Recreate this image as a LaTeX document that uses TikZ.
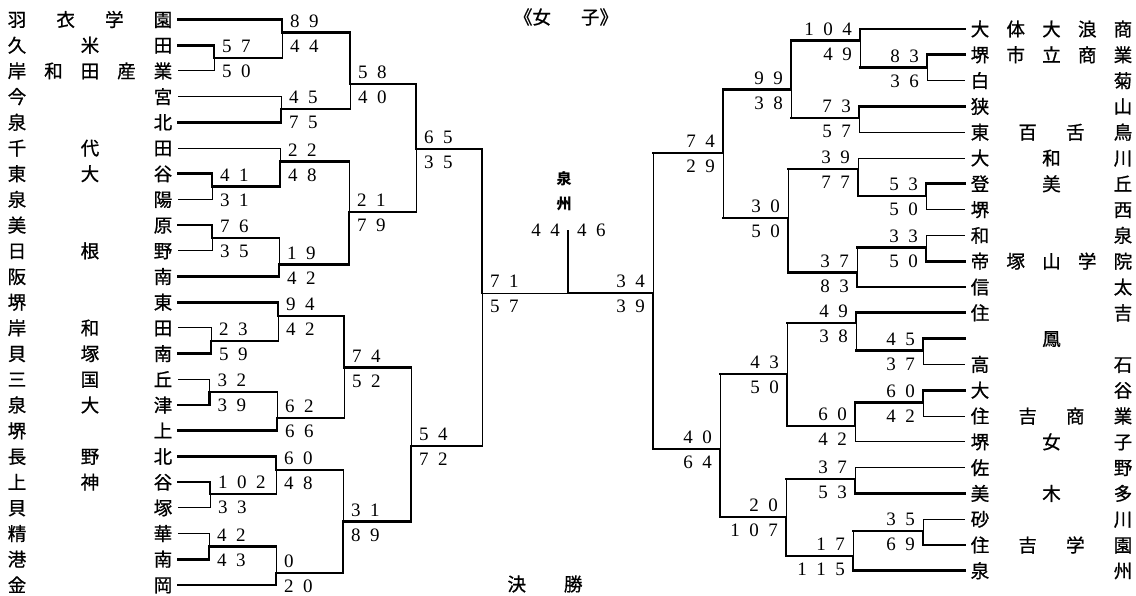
\documentclass[tikz,border=0pt]{standalone}
\usepackage{fontspec}
\setmainfont{Liberation Serif}
\newfontfamily\jp{Noto Sans CJK JP}[FakeBold=0.8]
\newfontfamily\jpc{Noto Sans CJK JP}
\def\sepjoin#1#2{\sjA{#1}#2\sjstop}
\def\sjA#1#2#3\sjstop{#2\ifx\relax#3\relax\else#1\sjA{#1}#3\sjstop\fi}
\newcommand{\nums}[1]{\sepjoin{\hspace{9.5pt}}{#1}}
\newcommand{\tnl}[1]{\makebox[164.5pt]{\sepjoin{\hfill}{#1}}}
\newcommand{\tnr}[1]{\makebox[161.5pt]{\sepjoin{\hfill}{#1}}}
% match: name, x, y, child1, child2, style1, style2, score1, score2
\newcommand{\bmA}[9]{%
  \coordinate (#1) at (#2,#3);
  \draw[#6] (#4) -- (#4 -| #1);
  \draw[#7] (#5) -- (#5 -| #1);
  \draw[thk] (#4 -| #1) -- (#1);
  \draw[thn] (#1) -- (#5 -| #1);
  \node[su] (#1u) at (#1) {\nums{#8}};
  \node[sd] (#1d) at (#1) {\nums{#9}};
}
\newcommand{\bmB}[9]{%
  \coordinate (#1) at (#2,#3);
  \draw[#6] (#4) -- (#4 -| #1);
  \draw[#7] (#5) -- (#5 -| #1);
  \draw[thn] (#4 -| #1) -- (#1);
  \draw[thk] (#1) -- (#5 -| #1);
  \node[su] (#1u) at (#1) {\nums{#8}};
  \node[sd] (#1d) at (#1) {\nums{#9}};
}
\begin{document}
\begin{tikzpicture}[x=1pt,y=-1pt,
  thk/.style={line width=2.7pt, line cap=rect},
  thn/.style={line width=0.9pt, line cap=rect},
  jpn/.style={font=\jp\fontsize{18.5}{18.5}\selectfont, inner sep=0pt},
  lname/.style={jpn, outer xsep=6pt, text height=16.3pt, text depth=2.2pt},
  sc/.style={font=\fontsize{19}{19}\selectfont, inner sep=0pt},
  champ/.style={font=\jpc\bfseries\fontsize{15}{15}\selectfont, inner sep=0pt}]
\useasboundingbox (0,0) rectangle (1136,595);

\node[jpn] (title) at (566,17) {《女\hspace{30pt}子》};
\node[jpn] (kessho) at (545,584) {決\hspace{38pt}勝};

% ---------- left teams
\node[lname] (nL1) at (90,19.5) {\tnl{羽衣学園}};
\node[lname] (nL2) at (90,45.2) {\tnl{久米田}};
\node[lname] (nL3) at (90,70.9) {\tnl{岸和田産業}};
\node[lname] (nL4) at (90,96.6) {\tnl{今宮}};
\node[lname] (nL5) at (90,122.3) {\tnl{泉北}};
\node[lname] (nL6) at (90,148.0) {\tnl{千代田}};
\node[lname] (nL7) at (90,173.7) {\tnl{東大谷}};
\node[lname] (nL8) at (90,199.4) {\tnl{泉陽}};
\node[lname] (nL9) at (90,225.1) {\tnl{美原}};
\node[lname] (nL10) at (90,250.8) {\tnl{日根野}};
\node[lname] (nL11) at (90,276.5) {\tnl{阪南}};
\node[lname] (nL12) at (90,302.2) {\tnl{堺東}};
\node[lname] (nL13) at (90,327.9) {\tnl{岸和田}};
\node[lname] (nL14) at (90,353.6) {\tnl{貝塚南}};
\node[lname] (nL15) at (90,379.3) {\tnl{三国丘}};
\node[lname] (nL16) at (90,405.0) {\tnl{泉大津}};
\node[lname] (nL17) at (90,430.7) {\tnl{堺上}};
\node[lname] (nL18) at (90,456.4) {\tnl{長野北}};
\node[lname] (nL19) at (90,482.1) {\tnl{上神谷}};
\node[lname] (nL20) at (90,507.8) {\tnl{貝塚}};
\node[lname] (nL21) at (90,533.5) {\tnl{精華}};
\node[lname] (nL22) at (90,559.2) {\tnl{港南}};
\node[lname] (nL23) at (90,584.9) {\tnl{金岡}};

% ---------- right teams
\node[lname] (nR1) at (1051.5,29.0) {\tnr{大体大浪商}};
\node[lname] (nR2) at (1051.5,54.8) {\tnr{堺市立商業}};
\node[lname] (nR3) at (1051.5,80.6) {\tnr{白菊}};
\node[lname] (nR4) at (1051.5,106.4) {\tnr{狭山}};
\node[lname] (nR5) at (1051.5,132.2) {\tnr{東百舌鳥}};
\node[lname] (nR6) at (1051.5,158.0) {\tnr{大和川}};
\node[lname] (nR7) at (1051.5,183.8) {\tnr{登美丘}};
\node[lname] (nR8) at (1051.5,209.6) {\tnr{堺西}};
\node[lname] (nR9) at (1051.5,235.4) {\tnr{和泉}};
\node[lname] (nR10) at (1051.5,261.2) {\tnr{帝塚山学院}};
\node[lname] (nR11) at (1051.5,287.0) {\tnr{信太}};
\node[lname] (nR12) at (1051.5,312.8) {\tnr{住吉}};
\node[lname] (nR13) at (1051.5,338.6) {\makebox[161.5pt]{\hfill 鳳\hfill}};
\node[lname] (nR14) at (1051.5,364.4) {\tnr{高石}};
\node[lname] (nR15) at (1051.5,390.2) {\tnr{大谷}};
\node[lname] (nR16) at (1051.5,416.0) {\tnr{住吉商業}};
\node[lname] (nR17) at (1051.5,441.8) {\tnr{堺女子}};
\node[lname] (nR18) at (1051.5,467.6) {\tnr{佐野}};
\node[lname] (nR19) at (1051.5,493.4) {\tnr{美木多}};
\node[lname] (nR20) at (1051.5,519.2) {\tnr{砂川}};
\node[lname] (nR21) at (1051.5,545.0) {\tnr{住吉学園}};
\node[lname] (nR22) at (1051.5,570.8) {\tnr{泉州}};

% ---------- left bracket
\begin{scope}[su/.style={sc, anchor=south west, xshift=8pt, yshift=5pt},
              sd/.style={sc, anchor=north west, xshift=8pt, yshift=-7pt}]
\bmA{M1}{214}{58}{nL2}{nL3}{thk}{thn}{57}{50}
\bmA{M2}{282}{32.5}{nL1}{M1}{thk}{thk}{89}{44}
\bmB{M3}{281}{109}{nL4}{nL5}{thn}{thk}{45}{75}
\bmA{M4}{350}{84}{M2}{M3}{thk}{thk}{58}{40}
\bmA{M5}{212}{186.5}{nL7}{nL8}{thk}{thn}{41}{31}
\bmB{M6}{280}{161.5}{nL6}{M5}{thn}{thk}{22}{48}
\bmA{M7}{212}{238}{nL9}{nL10}{thk}{thn}{76}{35}
\bmB{M8}{279}{264.5}{M7}{nL11}{thk}{thk}{19}{42}
\bmB{M9}{349}{212}{M6}{M8}{thk}{thk}{21}{79}
\bmA{M10}{416}{149}{M4}{M9}{thk}{thk}{65}{35}
\bmB{M11}{211}{341}{nL13}{nL14}{thn}{thk}{23}{59}
\bmA{M12}{278}{316}{nL12}{M11}{thk}{thk}{94}{42}
\bmB{M13}{209.5}{392}{nL15}{nL16}{thn}{thk}{32}{39}
\bmB{M14}{277}{418}{M13}{nL17}{thk}{thk}{62}{66}
\bmA{M15}{344}{367.5}{M12}{M14}{thk}{thk}{74}{52}
\bmA{M16}{210}{494}{nL19}{nL20}{thk}{thn}{102}{33}
\bmA{M17}{276}{470}{nL18}{M16}{thk}{thk}{60}{48}
\bmB{M18}{209}{546.5}{nL21}{nL22}{thn}{thk}{42}{43}
\bmB{M19}{276}{573}{M18}{nL23}{thk}{thk}{0}{20}
\bmB{M20}{343}{521.5}{M17}{M19}{thk}{thk}{31}{89}
\bmB{M21}{411}{446}{M15}{M20}{thk}{thk}{54}{72}
\bmA{M22}{482}{293}{M10}{M21}{thk}{thk}{71}{57}
\end{scope}

% ---------- right bracket
\begin{scope}[su/.style={sc, anchor=south east, xshift=-8pt, yshift=5pt},
              sd/.style={sc, anchor=north east, xshift=-8pt, yshift=-7pt}]
\bmA{R1}{927}{67.5}{nR2}{nR3}{thk}{thn}{83}{36}
\bmA{R2}{860}{40.5}{nR1}{R1}{thk}{thk}{104}{49}
\bmA{R3}{859}{118}{nR4}{nR5}{thk}{thn}{73}{57}
\bmA{R4}{791}{89.5}{R2}{R3}{thk}{thk}{99}{38}
\bmA{R5}{926}{196}{nR7}{nR8}{thk}{thn}{53}{50}
\bmB{R6}{858}{169}{nR6}{R5}{thn}{thk}{39}{77}
\bmB{R7}{926}{247.5}{nR9}{nR10}{thn}{thk}{33}{50}
\bmB{R8}{857}{272.5}{R7}{nR11}{thk}{thk}{37}{83}
\bmB{R9}{788}{218}{R6}{R8}{thk}{thk}{30}{50}
\bmA{R10}{723}{153}{R4}{R9}{thk}{thk}{74}{29}
\bmA{R11}{923}{350.5}{nR13}{nR14}{thk}{thn}{45}{37}
\bmA{R12}{856}{323}{nR12}{R11}{thk}{thk}{49}{38}
\bmA{R13}{923}{402.5}{nR15}{nR16}{thk}{thn}{60}{42}
\bmA{R14}{855}{426}{R13}{nR17}{thk}{thn}{60}{42}
\bmB{R15}{787}{374}{R12}{R14}{thk}{thk}{43}{50}
\bmB{R16}{855}{479}{nR18}{nR19}{thn}{thk}{37}{53}
\bmB{R17}{923}{531}{nR20}{nR21}{thn}{thk}{35}{69}
\bmB{R18}{853}{556}{R17}{nR22}{thk}{thk}{17}{115}
\bmB{R19}{786}{517}{R16}{R18}{thk}{thk}{20}{107}
\bmB{R20}{720}{449}{R15}{R19}{thk}{thk}{40}{64}
\bmB{R21}{653}{293}{R10}{R20}{thk}{thk}{34}{39}
\end{scope}

% ---------- final
\coordinate (F) at (568,293);
\coordinate (Ft) at (568,231);
\draw[thn] (M22) -- (F);
\draw[thk] (R21) -- (F);
\draw[thk] (F) -- (Ft);
\node[sc, anchor=east] (FL) at (560,230) {\nums{44}};
\node[sc, anchor=west] (FR) at (577,230) {\nums{46}};
\node[champ] (ch1) at (564,179) {泉};
\node[champ] (ch2) at (564,204) {州};
\end{tikzpicture}
\end{document}
